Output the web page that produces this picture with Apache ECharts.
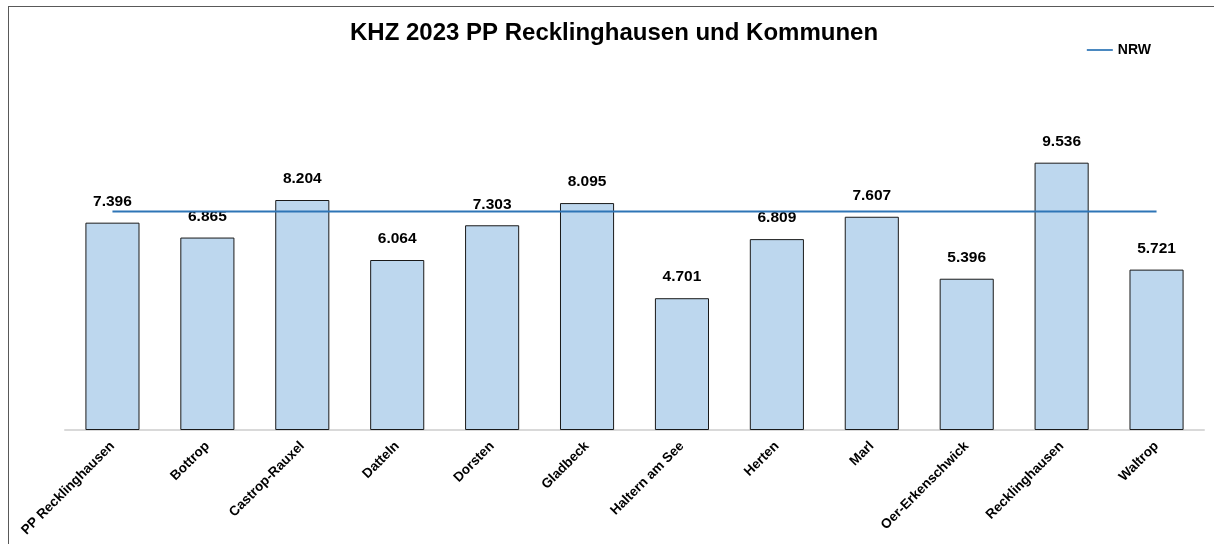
<!DOCTYPE html>
<html>
<head>
<meta charset="utf-8">
<script src="https://cdn.jsdelivr.net/npm/echarts@6/dist/echarts.min.js"></script>
<style>
html,body{margin:0;padding:0;background:#fff;}
#frame{position:absolute;left:8px;top:6px;width:1220px;height:560px;border:1px solid #595959;box-sizing:border-box;}
#chart{position:absolute;left:0;top:0;width:1214px;height:544px;}
</style>
</head>
<body>
<div id="frame"></div>
<div id="chart"></div>
<script>
// Kommunen
var categories=['PP Recklinghausen','Bottrop','Castrop-Rauxel','Datteln','Dorsten','Gladbeck',
	'Haltern am See','Herten','Marl','Oer-Erkenschwick','Recklinghausen','Waltrop'];
// KHZ Werte (in Tausend)
var khzValues=[7.396,6.865,8.204,6.064,7.303,8.095,4.701,6.809,7.607,5.396,9.536,5.721];
// NRW Vergleichswert
var nrwValue=7.79;
var nrwValues=[];
for(var i=0;i<categories.length;i++){
	nrwValues.push(nrwValue);
}

var myChart=echarts.init(document.getElementById('chart'));
var option={
	animation:false,
	title:{
		text:'KHZ 2023 PP Recklinghausen und Kommunen',
		left:345,
		top:16,
		textStyle:{
			fontFamily:'Liberation Sans',
			fontSize:24,
			fontWeight:'bold',
			color:'#000'
		}
	},
	legend:{
		data:[{name:'NRW',icon:'path://M0,0 L30,0 L30,2 L0,2 Z'}],
		right:58,
		top:38,
		itemWidth:26,
		itemHeight:2,
		itemGap:4,
		textStyle:{
			fontFamily:'Liberation Sans',
			fontSize:14,
			fontWeight:'bold',
			color:'#000'
		}
	},
	grid:{
		left:65,
		right:10,
		top:93.6,
		bottom:114,
		containLabel:false
	},
	xAxis:{
		type:'category',
		data:categories,
		axisLine:{lineStyle:{color:'#d9d9d9',width:2}},
		axisTick:{show:false},
		axisLabel:{
			rotate:45,
			interval:0,
			margin:14,
			fontFamily:'Liberation Sans',
			fontSize:13.5,
			fontWeight:'bold',
			color:'#000'
		}
	},
	yAxis:{
		type:'value',
		min:0,
		max:12,
		show:false,
		splitLine:{show:false}
	},
	series:[
		{
			name:'KHZ',
			type:'bar',
			data:khzValues,
			barWidth:'57%',
			itemStyle:{
				color:'#bdd7ee',
				borderColor:'#1a1a1a',
				borderWidth:1
			},
			label:{
				show:true,
				position:'top',
				distance:13,
				fontFamily:'Liberation Sans',
				fontSize:15.5,
				fontWeight:'bold',
				color:'#000',
				formatter:function(p){
					return p.value.toFixed(3);
				}
			}
		},
		{
			name:'NRW',
			type:'line',
			data:nrwValues,
			symbol:'none',
			lineStyle:{color:'#2e75b6',width:2},
			itemStyle:{color:'#2e75b6'},
			z:5
		}
	]
};
myChart.setOption(option);
</script>
</body>
</html>
